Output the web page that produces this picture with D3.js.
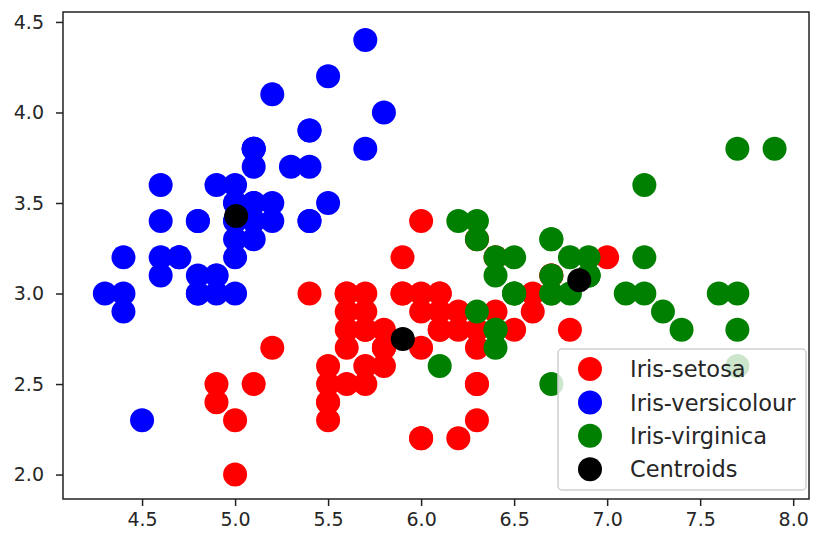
<!DOCTYPE html>
<html>
<head>
<meta charset="utf-8">
<script src="https://cdn.jsdelivr.net/npm/d3@7"></script>
<style>
  body { margin: 0; background: #fff; }
  text { font-family: "DejaVu Sans", sans-serif; }
</style>
</head>
<body>
<script>
// cluster 0 (red), cluster 1 (blue), cluster 2 (green): [sepal length, sepal width]
const redPts = [
  [7.0,3.2],[6.4,3.2],[5.5,2.3],[6.5,2.8],[5.7,2.8],[6.3,3.3],[4.9,2.4],[6.6,2.9],[5.2,2.7],[5.0,2.0],
  [5.9,3.0],[6.0,2.2],[6.1,2.9],[5.6,2.9],[6.7,3.1],[5.6,3.0],[5.8,2.7],[6.2,2.2],[5.6,2.5],[5.9,3.2],
  [6.1,2.8],[6.3,2.5],[6.1,2.8],[6.4,2.9],[6.6,3.0],[6.8,2.8],[6.0,2.9],[5.7,2.6],[5.5,2.4],[5.5,2.4],
  [5.8,2.7],[6.0,2.7],[5.4,3.0],[6.0,3.4],[6.7,3.1],[6.3,2.3],[5.6,3.0],[5.5,2.5],[5.5,2.6],[6.1,3.0],
  [5.8,2.6],[5.0,2.3],[5.6,2.7],[5.7,3.0],[5.7,2.9],[6.2,2.9],[5.1,2.5],[5.7,2.8],
  [5.8,2.7],[4.9,2.5],[5.7,2.5],[5.8,2.8],[6.0,2.2],[5.6,2.8],[6.3,2.7],[6.2,2.8],[6.1,3.0],[6.3,2.8],
  [6.0,3.0],[5.8,2.7],[6.3,2.5],[5.9,3.0]
];
const bluePts = [
  [5.1,3.5],[4.9,3.0],[4.7,3.2],[4.6,3.1],[5.0,3.6],[5.4,3.9],[4.6,3.4],[5.0,3.4],[4.4,2.9],[4.9,3.1],
  [5.4,3.7],[4.8,3.4],[4.8,3.0],[4.3,3.0],[5.8,4.0],[5.7,4.4],[5.4,3.9],[5.1,3.5],[5.7,3.8],[5.1,3.8],
  [5.4,3.4],[5.1,3.7],[4.6,3.6],[5.1,3.3],[4.8,3.4],[5.0,3.0],[5.0,3.4],[5.2,3.5],[5.2,3.4],[4.7,3.2],
  [4.8,3.1],[5.4,3.4],[5.2,4.1],[5.5,4.2],[4.9,3.1],[5.0,3.2],[5.5,3.5],[4.9,3.6],[4.4,3.0],[5.1,3.4],
  [5.0,3.5],[4.5,2.3],[4.4,3.2],[5.0,3.5],[5.1,3.8],[4.8,3.0],[5.1,3.8],[4.6,3.2],[5.3,3.7],[5.0,3.3]
];
const greenPts = [
  [6.9,3.1],[6.7,3.0],
  [6.3,3.3],[7.1,3.0],[6.3,2.9],[6.5,3.0],[7.6,3.0],[7.3,2.9],[6.7,2.5],[7.2,3.6],[6.5,3.2],[6.4,2.7],
  [6.8,3.0],[6.4,3.2],[6.5,3.0],[7.7,3.8],[7.7,2.6],[6.9,3.2],[7.7,2.8],[6.7,3.3],[7.2,3.2],[6.4,2.8],
  [7.2,3.0],[7.4,2.8],[7.9,3.8],[6.4,2.8],[6.1,2.6],[7.7,3.0],[6.3,3.4],[6.4,3.1],[6.9,3.1],[6.7,3.1],
  [6.9,3.1],[6.8,3.2],[6.7,3.3],[6.7,3.0],[6.5,3.0],[6.2,3.4]
];
const centroids = [[5.9016,2.7484],[5.006,3.428],[6.85,3.0737]];

const legendLabels = ['Iris-setosa', 'Iris-versicolour', 'Iris-virginica', 'Centroids'];
const colors = ['red', 'blue', 'green', 'black'];
const xTicks = [4.5, 5.0, 5.5, 6.0, 6.5, 7.0, 7.5, 8.0];
const yTicks = [2.0, 2.5, 3.0, 3.5, 4.0, 4.5];

const width = 814;
const height = 537;
const box = { left: 63, right: 809, top: 12, bottom: 499 };
const r = 12;

const svg = d3.select('body').append('svg')
  .attr('width', width)
  .attr('height', height);

const x = d3.scaleLinear().domain([4.075, 8.085]).range([box.left, box.right]);
const y = d3.scaleLinear().domain([1.865, 4.555]).range([box.bottom, box.top]);

const plot = svg.append('g');

[redPts, bluePts, greenPts, centroids].forEach((pts, i) => {
  plot.append('g')
    .selectAll('circle')
    .data(pts)
    .enter().append('circle')
      .attr('cx', d => x(d[0]))
      .attr('cy', d => y(d[1]))
      .attr('r', r)
      .attr('fill', colors[i]);
});

// axes
const xAxis = d3.axisBottom(x).tickValues(xTicks).tickFormat(d3.format('.1f')).tickSize(7).tickPadding(7);
const yAxis = d3.axisLeft(y).tickValues(yTicks).tickFormat(d3.format('.1f')).tickSize(7).tickPadding(12);

svg.append('g')
  .attr('transform', `translate(0,${box.bottom})`)
  .call(xAxis)
  .call(g => g.select('.domain').remove());

svg.append('g')
  .attr('transform', `translate(${box.left},0)`)
  .call(yAxis)
  .call(g => g.select('.domain').remove());

svg.selectAll('.tick line').attr('stroke', '#222').attr('stroke-width', 1.5);
svg.selectAll('.tick text')
  .attr('fill', '#262626')
  .style('font-size', '19px')
  .style('font-family', '"DejaVu Sans", sans-serif');

svg.append('rect')
  .attr('x', box.left)
  .attr('y', box.top)
  .attr('width', box.right - box.left)
  .attr('height', box.bottom - box.top)
  .attr('fill', 'none')
  .attr('stroke', '#222')
  .attr('stroke-width', 1.5);

// legend
const legend = svg.append('g');
legend.append('rect')
  .attr('x', 558)
  .attr('y', 349)
  .attr('width', 248)
  .attr('height', 141)
  .attr('rx', 4)
  .attr('fill', 'white')
  .attr('fill-opacity', 0.8)
  .attr('stroke', '#d0d0d0')
  .attr('stroke-width', 1.5);

const rows = legend.selectAll('.row')
  .data(legendLabels)
  .enter().append('g')
    .attr('class', 'row')
    .attr('transform', (d, i) => `translate(590,${369 + i * 33.4})`);

rows.append('circle')
  .attr('r', r)
  .attr('fill', (d, i) => colors[i]);

rows.append('text')
  .attr('x', 40)
  .attr('dy', '0.36em')
  .attr('fill', '#262626')
  .style('font-size', '22.5px')
  .text(d => d);
</script>
</body>
</html>
